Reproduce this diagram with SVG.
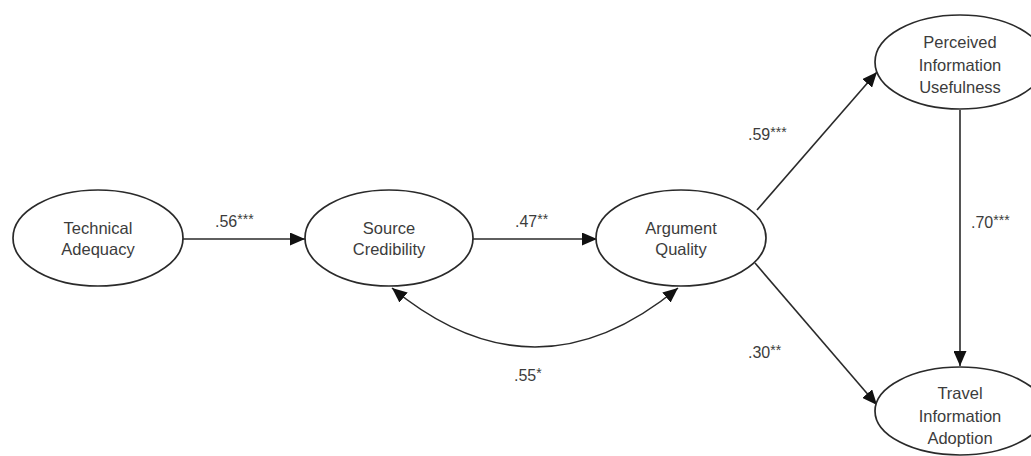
<svg xmlns="http://www.w3.org/2000/svg" width="1031" height="456" viewBox="0 0 1031 456">
  <defs>
    <style>
      .node ellipse { fill: #ffffff; stroke: #2a2a2a; stroke-width: 1.7; }
      .node text { font-family: "Liberation Sans", Arial, sans-serif; font-size: 16.5px; fill: #3c3c3c; text-anchor: middle; }
      .edge { fill: none; stroke: #2a2a2a; stroke-width: 1.6; }
      .lbl { font-family: "Liberation Sans", Arial, sans-serif; font-size: 16px; fill: #3c3c3c; }
      .lbl tspan.sig { font-size: 14px; }
    </style>
    <marker id="arrow" markerUnits="userSpaceOnUse" markerWidth="15" markerHeight="13" refX="15" refY="6.5" orient="auto-start-reverse" viewBox="0 0 15 13">
      <path d="M0,0 L15,6.5 L0,13 z" fill="#111"/>
    </marker>
  </defs>

  <rect width="1031" height="456" fill="#ffffff"/>

  <!-- connectors -->
  <g id="connectors">
    <line class="edge" x1="183" y1="239" x2="305" y2="239" marker-end="url(#arrow)"/>
    <line class="edge" x1="473" y1="239" x2="597" y2="239" marker-end="url(#arrow)"/>
    <line class="edge" x1="757" y1="210" x2="877" y2="72" marker-end="url(#arrow)"/>
    <line class="edge" x1="755" y1="263" x2="877" y2="405" marker-end="url(#arrow)"/>
    <line class="edge" x1="960" y1="110" x2="960" y2="366" marker-end="url(#arrow)"/>
    <path class="edge" d="M392,288 Q535,406 678,288" marker-start="url(#arrow)" marker-end="url(#arrow)"/>

    <text class="lbl" x="215" y="227">.56<tspan class="sig" dy="-3">***</tspan></text>
    <text class="lbl" x="515" y="227">.47<tspan class="sig" dy="-3">**</tspan></text>
    <text class="lbl" x="748" y="140">.59<tspan class="sig" dy="-3">***</tspan></text>
    <text class="lbl" x="748" y="358">.30<tspan class="sig" dy="-3">**</tspan></text>
    <text class="lbl" x="971" y="228">.70<tspan class="sig" dy="-3">***</tspan></text>
    <text class="lbl" x="514" y="381">.55<tspan class="sig" dy="-3">*</tspan></text>
  </g>

  <g id="technical-adequacy" class="node">
    <ellipse cx="98" cy="238" rx="85" ry="48"/>
    <text x="98" y="234">Technical</text>
    <text x="98" y="255">Adequacy</text>
  </g>

  <g id="source-credibility" class="node">
    <ellipse cx="389" cy="238" rx="84" ry="48"/>
    <text x="389" y="234">Source</text>
    <text x="389" y="255">Credibility</text>
  </g>

  <g id="argument-quality" class="node">
    <ellipse cx="681" cy="238" rx="85" ry="48"/>
    <text x="681" y="234">Argument</text>
    <text x="681" y="255">Quality</text>
  </g>

  <g id="perceived-information-usefulness" class="node">
    <ellipse cx="960" cy="62" rx="85" ry="47"/>
    <text x="960" y="48">Perceived</text>
    <text x="960" y="71">Information</text>
    <text x="960" y="93">Usefulness</text>
  </g>

  <g id="travel-information-adoption" class="node">
    <ellipse cx="960" cy="411" rx="85" ry="44"/>
    <text x="960" y="399">Travel</text>
    <text x="960" y="422">Information</text>
    <text x="960" y="444">Adoption</text>
  </g>
</svg>
